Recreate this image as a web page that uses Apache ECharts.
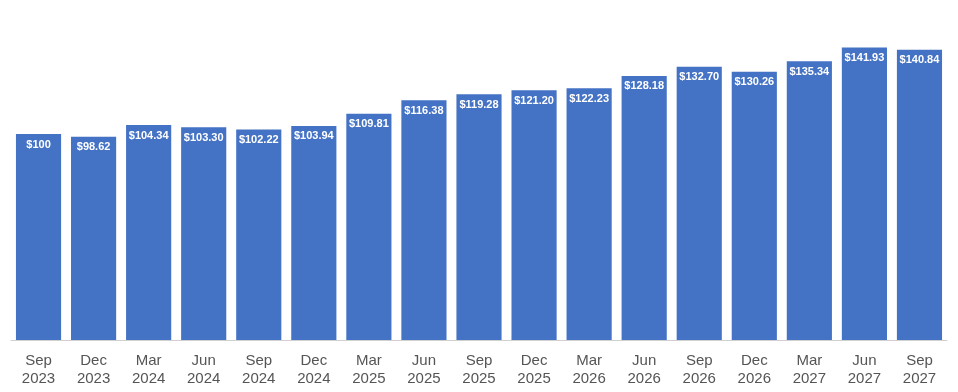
<!DOCTYPE html>
<html><head><meta charset="utf-8">
<script src="https://cdn.jsdelivr.net/npm/echarts@6/dist/echarts.min.js"></script>
<style>html,body{margin:0;padding:0;background:#fff}#c{width:958px;height:392px}</style>
</head><body><div id="c"></div>
<script>
const categories = ['Sep\n2023','Dec\n2023','Mar\n2024','Jun\n2024','Sep\n2024','Dec\n2024','Mar\n2025','Jun\n2025','Sep\n2025','Dec\n2025','Mar\n2026','Jun\n2026','Sep\n2026','Dec\n2026','Mar\n2027','Jun\n2027','Sep\n2027'];
const values = [100, 98.62, 104.34, 103.30, 102.22, 103.94, 109.81, 116.38, 119.28, 121.20, 122.23, 128.18, 132.70, 130.26, 135.34, 141.93, 140.84];
const chart = echarts.init(document.getElementById('c'), null, {renderer:'canvas'});
chart.setOption({
  animation:false,
  grid:{left:11,right:11,top:31,bottom:52,containLabel:false},
  xAxis:{type:'category',data:categories,
    axisLine:{lineStyle:{color:'#d0d0d0',width:1}},axisTick:{show:false},
    axisLabel:{color:'#555',fontSize:15,fontFamily:'Liberation Sans, Arial, sans-serif',lineHeight:18,margin:12,interval:0}},
  yAxis:{type:'value',min:0,max:150,show:false,splitLine:{show:false}},
  series:[{type:'bar',data:values,barCategoryGap:'18%',
    itemStyle:{color:'#4472C4'},
    label:{show:true,position:'insideTop',distance:5,color:'#fff',fontSize:11,fontWeight:'bold',fontFamily:'Liberation Sans, Arial, sans-serif',
      formatter:p=>'$'+(Number.isInteger(p.value)?p.value:p.value.toFixed(2))}}]
});
</script></body></html>
